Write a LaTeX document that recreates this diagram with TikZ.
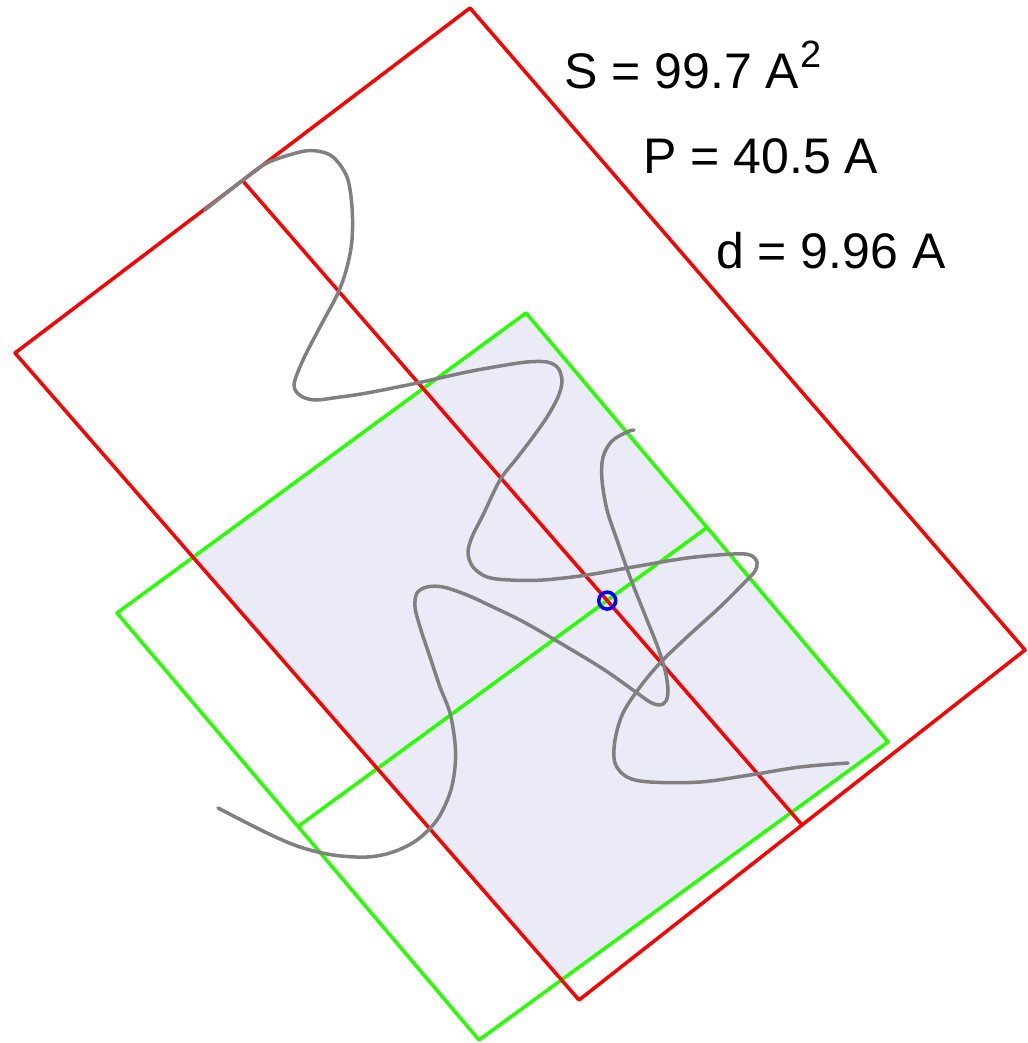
\documentclass[tikz,border=0pt]{standalone}
\usepackage{fontspec}
\setmainfont{Liberation Sans}
\usetikzlibrary{calc}
\definecolor{fillc}{RGB}{235,235,247}
\definecolor{redc}{RGB}{255,0,0}
\definecolor{greenc}{RGB}{40,255,0}
\definecolor{greyc}{RGB}{128,128,128}
\definecolor{bluec}{RGB}{0,0,255}
\begin{document}
\begin{tikzpicture}[x=1pt,y=-1pt,line join=round,
  redline/.style={draw=redc,line width=3.5pt},
  greenline/.style={draw=greenc,line width=3.5pt},
  chain/.style={draw=greyc,line width=3.5pt,line cap=round},
  lbl/.style={inner sep=0pt,font=\fontsize{50}{60}\selectfont,text=black}]
\useasboundingbox (0,0) rectangle (1027,1043);
% red rectangle corners
\coordinate (RT) at (470,8);
\coordinate (RR) at (1025,650);
\coordinate (RB) at (579,1000);
\coordinate (RL) at (15,353);
% green rectangle corners
\coordinate (GT) at (526,313);
\coordinate (GR) at (888,742);
\coordinate (GB) at (479,1040);
\coordinate (GL) at (117,613);
% midlines
\coordinate (RM1) at ($(RL)!0.5!(RT)$);
\coordinate (RM2) at ($(RB)!0.5!(RR)$);
\coordinate (GM1) at ($(GL)!0.5!(GB)$);
\coordinate (GM2) at ($(GT)!0.5!(GR)$);
% overlap fill
\begin{scope}
  \clip (RT) -- (RR) -- (RB) -- (RL) -- cycle;
  \fill[fillc] (GT) -- (GR) -- (GB) -- (GL) -- cycle;
\end{scope}
% green
\draw[greenline] (GT) -- (GR) -- (GB) -- (GL) -- cycle;
\draw[greenline] (GM1) -- (GM2);
% red
\draw[redline] (RT) -- (RR) -- (RB) -- (RL) -- cycle;
\draw[redline] (RM1) -- (RM2);
% grey chains
\draw[chain] plot[smooth,tension=0.55] coordinates {
 (218,808) (267,833) (300,847) (333,855) (367,857) (393,852) (417,840)
 (437,820) (450,793) (455,767) (455,743) (450,713) (440,687) (430,657)
 (420,627) (415,607) (417,593) (427,587) (443,587) (467,595) (493,607)
 (520,620) (550,637) (600,667) (633,690) (650,702) (660,705) (666,701)
 (668,690) (665,670) (657,645) (645,615) (630,577) (617,540) (607,510)
 (602,480) (603,457) (612,441) (627,432) (634,430)};
\draw[chain] plot[smooth,tension=0.55] coordinates {
 (205,210) (243,180) (267,163) (300,152) (317,151) (333,157) (347,177)
 (352,207) (352,240) (347,267) (338,293) (320,327) (303,360) (294,385)
 (301,396) (315,400) (333,398) (367,393) (417,383) (467,372) (500,366)
 (527,362) (547,362) (558,368) (562,381) (558,397) (547,417) (533,437)
 (517,458) (500,480) (483,515) (472,537) (468,553) (473,567) (487,577)
 (510,580) (543,580) (587,575) (633,567) (687,558) (733,554) (750,555)
 (757,562) (755,571) (745,582) (720,607) (687,637) (660,663) (640,687)
 (623,713) (615,740) (615,763) (627,777) (650,782) (700,782) (750,775)
 (800,767) (848,763)};
% centre marker
\coordinate (C) at (intersection of RM1--RM2 and GM1--GM2);
\draw[draw=bluec,line width=3.5pt] (C) circle[radius=8.5pt];
% labels
\node[lbl,anchor=base west] (S) at (564,89) {S = 99.7 A\kern1pt\raisebox{21pt}{\fontsize{38}{38}\selectfont 2}};
\node[lbl,anchor=base west] (P) at (643,174) {P = 40.5 A};
\node[lbl,anchor=base west] (d) at (716,268) {d = 9.96 A};
\end{tikzpicture}
\end{document}
